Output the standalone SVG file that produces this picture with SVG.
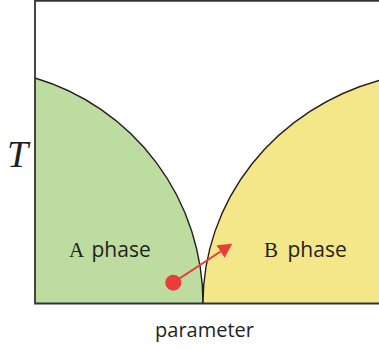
<svg xmlns="http://www.w3.org/2000/svg" width="379" height="349" viewBox="0 0 379 349">
<style>
.boundary{fill:none;stroke:#231f20;stroke-width:1.4}
.axis{fill:none;stroke:#333;stroke-width:1.8}
.lbl{font-family:"Open Sans","Noto Sans",sans-serif;font-size:21px;fill:#231f20}
.ser{font-family:"Liberation Serif",serif;font-size:21px;fill:#231f20}
</style>
<defs>
<marker id="ah" markerUnits="userSpaceOnUse" markerWidth="14" markerHeight="15" viewBox="0 0 14 15" refX="0" refY="7.5" orient="auto">
<path d="M0,0 L14,7.5 L0,15 Z" fill="#e93d3a"/>
</marker>
</defs>
<rect width="379" height="349" fill="#fff"/>
<g id="phaseA">
<path d="M35,78 A234.7,234.7 0 0 1 203,303 L35,303 Z" fill="#bddca0"/>
<path class="boundary" d="M35,78 A234.7,234.7 0 0 1 203,303"/>
<text class="ser" x="69" y="257">A</text>
<text class="lbl" x="91.5" y="257">phase</text>
</g>
<g id="phaseB">
<path d="M203,303 A245,232 0 0 1 379,80.4 L379,303 Z" fill="#f3e78a"/>
<path class="boundary" d="M203,303 A245,232 0 0 1 379,80.4"/>
<text class="ser" x="264" y="257">B</text>
<text class="lbl" x="287.5" y="257">phase</text>
</g>
<g id="axes">
<path class="axis" d="M35,0 V303.5 H379"/>
<path class="axis" d="M35,0.9 H379"/>
<text x="7" y="166.7" style="font-family:'Liberation Serif',serif;font-style:italic;font-size:38px;fill:#231f20">T</text>
<text class="lbl" x="204.5" y="337" text-anchor="middle" style="font-size:20px">parameter</text>
</g>
<g id="connectors">
<circle cx="173.3" cy="282.7" r="8" fill="#e93d3a"/>
<line x1="173.3" y1="282.7" x2="220.5" y2="251.5" stroke="#e93d3a" stroke-width="2" marker-end="url(#ah)"/>
</g>
</svg>
